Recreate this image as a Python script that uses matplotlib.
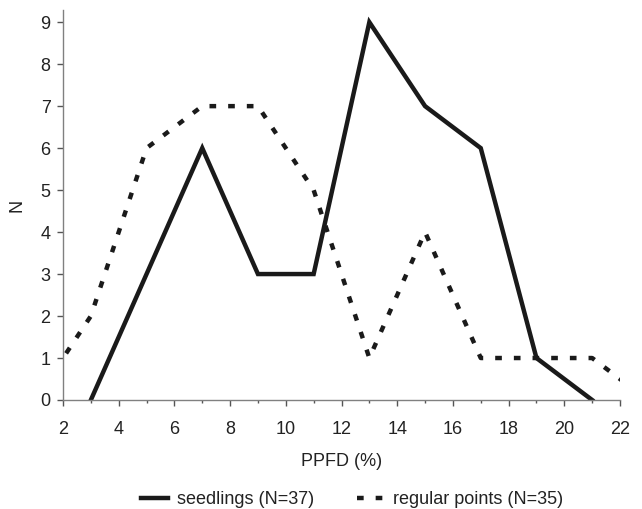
import matplotlib
matplotlib.use("Agg")
import matplotlib.pyplot as plt
from matplotlib.ticker import MultipleLocator

plt.rcParams['font.family'] = ['Liberation Sans', 'DejaVu Sans']

# Data
seedling_x = [3, 5, 7, 9, 11, 13, 15, 17, 19, 21]
seedling_n = [0, 3, 6, 3, 3, 9, 7, 6, 1, 0]
regular_x = [1, 3, 5, 7, 9, 11, 13, 15, 17, 19, 21, 23]
regular_n = [0, 2, 6, 7, 7, 5, 1, 4, 1, 1, 1, 0]
seedling_label = "seedlings (N=37)"
regular_label = "regular points (N=35)"

fig = plt.figure(figsize=(6.42, 5.09), dpi=100)
ax = fig.add_axes([63/642, 1 - 400/509, (620-63)/642, (400-10)/509])

ax.plot(seedling_x, seedling_n, color='#1a1a1a', lw=3.2, solid_joinstyle='miter',
        label=seedling_label)
ax.plot(regular_x, regular_n, color='#1a1a1a', lw=3.2, dashes=(1.5, 2.7),
        dash_capstyle='butt', label=regular_label)

ax.set_xlim(2, 22)
ax.set_ylim(0, 9.29)
ax.xaxis.set_major_locator(MultipleLocator(2))
ax.xaxis.set_minor_locator(MultipleLocator(1))
ax.set_yticks(range(0, 10))

for s in ['top', 'right']:
    ax.spines[s].set_visible(False)
for s in ['left', 'bottom']:
    ax.spines[s].set_color('#808080')
    ax.spines[s].set_linewidth(1.0)

ax.tick_params(axis='both', which='major', direction='out', length=4, width=1,
               color='#555555', labelsize=13, labelcolor='#222222')
ax.tick_params(axis='x', which='minor', direction='out', length=2.5, width=1, color='#555555')
ax.tick_params(axis='x', which='major', pad=11)
ax.tick_params(axis='y', which='major', pad=5)

ax.set_xlabel("PPFD (%)", fontsize=13, color='#222222', labelpad=11)
ax.set_ylabel("N", fontsize=13, color='#222222', labelpad=11)

leg = fig.legend(loc='center', bbox_to_anchor=(352/642, 1 - 500/509), ncol=2, frameon=False,
                 fontsize=13, handlelength=1.5, columnspacing=2.4, handletextpad=0.5,
                 borderpad=0, borderaxespad=0)
for t in leg.get_texts():
    t.set_color('#222222')

fig.savefig("out.png", dpi=100)
